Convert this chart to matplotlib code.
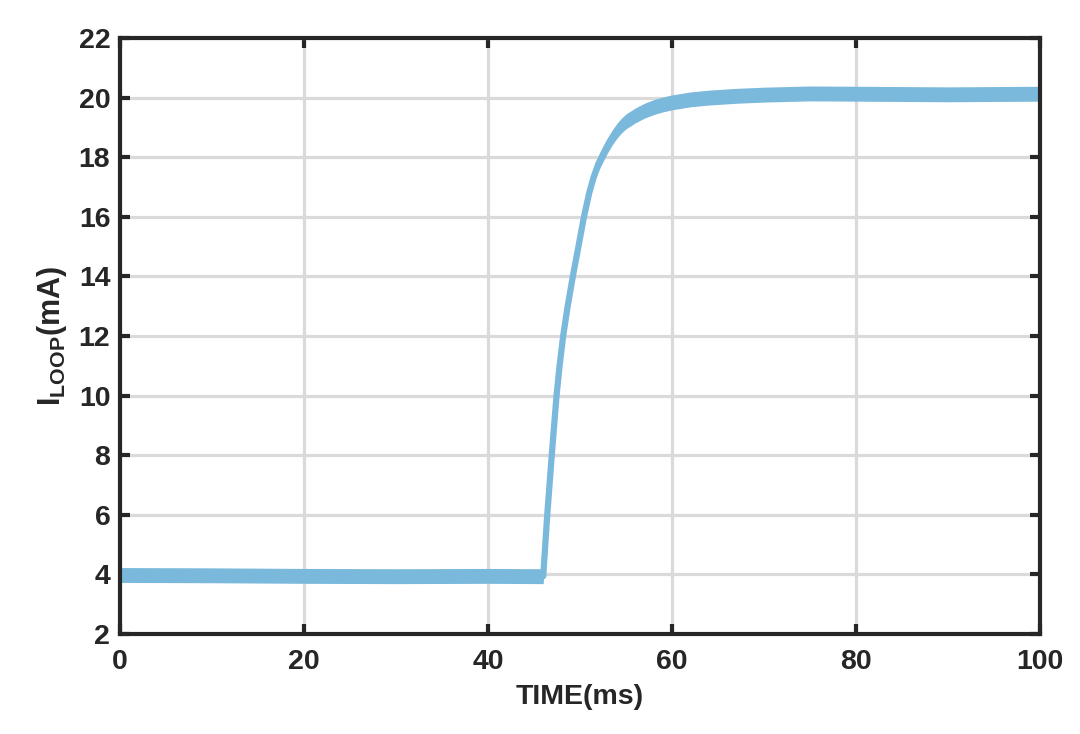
import matplotlib
matplotlib.use("Agg")
import matplotlib.pyplot as plt

# Data
time_ms = [0, 10, 20, 30, 40, 46.0, 46.44, 46.93, 47.45, 47.78, 48.17, 48.66,
           49.22, 49.83, 50.43, 51.0, 51.5, 52.0, 52.5, 53.0, 53.5, 54.0, 54.5,
           55.0, 56.0, 57.0, 58.0, 59.0, 60.0, 62.0, 64.0, 67.0, 70, 75,
           80, 85, 90, 95, 100]
i_loop_mA = [3.98, 3.97, 3.95, 3.94, 3.95, 3.94, 6.0, 8.0, 10.0, 11.0, 12.0, 13.0,
             14.0, 15.0, 16.0, 16.8, 17.35, 17.78, 18.1, 18.4, 18.66, 18.88, 19.06,
             19.2, 19.4, 19.56, 19.68, 19.77, 19.84, 19.94, 20.0, 20.06,
             20.1, 20.14, 20.13, 20.12, 20.11, 20.12, 20.13]
noise_halfwidth_mA = 0.25

x_ticks = [0, 20, 40, 60, 80, 100]
y_ticks = [2, 4, 6, 8, 10, 12, 14, 16, 18, 20, 22]

plt.rcParams['font.family'] = ['Liberation Sans', 'DejaVu Sans']
plt.rcParams['mathtext.fontset'] = 'custom'
plt.rcParams['mathtext.rm'] = 'Liberation Sans:bold'
plt.rcParams['mathtext.it'] = 'Liberation Sans:bold'
plt.rcParams['mathtext.bf'] = 'Liberation Sans:bold'

line_color = '#7ab9db'
dark = '#262626'
fs = 20.5

fig = plt.figure(figsize=(10.8, 7.34), dpi=100)
ax = fig.add_axes([120/1080, 100/734, 920/1080, 596/734])

lower = [v - noise_halfwidth_mA for v in i_loop_mA]
upper = [v + noise_halfwidth_mA for v in i_loop_mA]
ax.fill_between(time_ms, lower, upper, color=line_color, lw=0, zorder=3)
ax.plot(time_ms, i_loop_mA, color=line_color, lw=4.5, solid_capstyle='round',
        solid_joinstyle='round', zorder=3)

ax.set_xlim(0, 100)
ax.set_ylim(2, 22)
ax.set_xticks(x_ticks)
ax.set_yticks(y_ticks)
ax.grid(True, color='#dadada', lw=2.3, zorder=0)
ax.set_axisbelow(True)

for s in ax.spines.values():
    s.set_color(dark)
    s.set_linewidth(3)
    s.set_zorder(4)

ax.tick_params(direction='in', length=7, width=3, color=dark,
               top=True, right=True, labelsize=fs, labelcolor=dark)
ax.tick_params(axis='y', pad=7)
ax.tick_params(axis='x', pad=11)
for lab in ax.get_xticklabels() + ax.get_yticklabels():
    lab.set_fontweight('bold')

ax.set_xlabel('TIME(ms)', fontsize=fs, fontweight='bold', color=dark, labelpad=6)
ax.set_ylabel(r'$\mathrm{I_{LOOP}}$(mA)', fontsize=22, fontweight='bold', color=dark, labelpad=7)

fig.savefig('out.png', dpi=100, facecolor='white')
